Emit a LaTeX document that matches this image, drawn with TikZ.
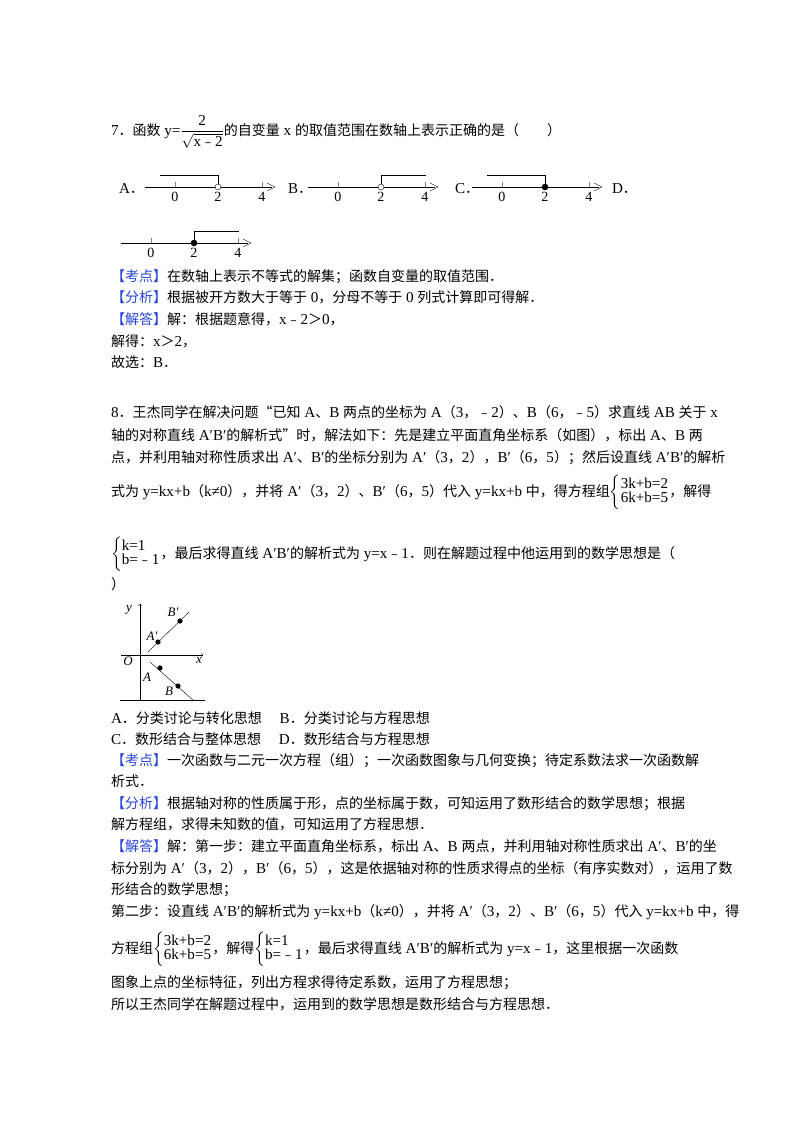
\documentclass[tikz,border=0pt]{standalone}
\usepackage{amsmath}
\usepackage{fontspec}
\setmainfont{Liberation Serif}[Scale=1.08]
\newfontfamily\cjk{Noto Sans CJK SC}
\XeTeXinterchartokenstate=1
\newXeTeXintercharclass\cjkcls
\def\setcls#1#2{\count255=#1 \loop \XeTeXcharclass\count255=\cjkcls \ifnum\count255<#2 \advance\count255 1 \repeat}
\setcls{"4E00}{"9FFF}
\setcls{"3000}{"303F}
\setcls{"FF00}{"FFEF}
\setcls{"FE30}{"FE6F}
\setcls{"2018}{"201D}
\XeTeXinterchartoks 0 \cjkcls = {\cjk}
\XeTeXinterchartoks 4095 \cjkcls = {\cjk}
\XeTeXinterchartoks \cjkcls 0 = {\rmfamily}
\XeTeXinterchartoks \cjkcls 4095 = {\rmfamily}
\definecolor{kb}{RGB}{40,70,220}
\newcommand\tagb[1]{\textcolor{kb}{【#1】}}
\newcommand\sysb[2]{$\renewcommand{\arraystretch}{0.85}\left\{\begin{array}{@{}l@{}}\text{#1}\\\text{#2}\end{array}\right.$}
\newcommand\mynl[4]{% x0, y, side(0 left,1 right), filled(0/1)
  \draw[thin] (#1,#2) -- (#1+127,#2);
  \draw[thin] (#1+122,#2-4) -- (#1+130,#2) -- (#1+122,#2+4);
  \foreach \k/\t in {30/0,73/2,117/4}{
    \draw[very thin,gray] (#1+\k,#2) -- (#1+\k,#2-5);
    \node[font=\fontsize{13}{13}\selectfont,anchor=base] at (#1+\k,#2+14) {\t};}
  \ifnum#3=0 \draw (#1+15,#2-12) -- (#1+73,#2-12) -- (#1+73,#2);
  \else \draw (#1+73,#2) -- (#1+73,#2-12) -- (#1+118,#2-12); \fi
  \ifnum#4=0 \filldraw[fill=white] (#1+73,#2) circle (3);
  \else \fill (#1+73,#2) circle (3.3); \fi}
\begin{document}
\begin{tikzpicture}[x=1pt,y=-1pt,
  every node/.style={inner sep=0pt,outer sep=0pt},
  t/.style={anchor=base west,font=\fontsize{14}{17}\selectfont},
  lbl/.style={font=\fontsize{12}{12}\selectfont\itshape,anchor=base}]
\useasboundingbox[fill=white] (0,0) rectangle (800,1132);
\node[t] (l1) at (111,135) {7．函数 y=$\dfrac{\text{2}}{\sqrt{\text{x﹣2}}}$的自变量 x 的取值范围在数轴上表示正确的是（　　）};
\node[t] (oa) at (119,193) {A．};
\mynl{145}{187}{0}{0}
\node[t] (ob) at (288,193) {B．};
\mynl{308}{187}{1}{0}
\node[t] (oc) at (455,193) {C．};
\mynl{472}{187}{0}{1}
\node[t] (od) at (612,193) {D．};
\mynl{121}{243}{1}{1}
\node[t] (a1) at (111,281) {\tagb{考点}在数轴上表示不等式的解集；函数自变量的取值范围．};
\node[t] (a2) at (111,302) {\tagb{分析}根据被开方数大于等于 0，分母不等于 0 列式计算即可得解．};
\node[t] (a3) at (111,324) {\tagb{解答}解：根据题意得，x﹣2＞0，};
\node[t] (a4) at (111,346) {解得：x＞2，};
\node[t] (a5) at (111,367) {故选：B．};
\node[t] (b1) at (111,417) {8．王杰同学在解决问题“已知 A、B 两点的坐标为 A（3，﹣2）、B（6，﹣5）求直线 AB 关于 x};
\node[t] (b2) at (111,440) {轴的对称直线 A′B′的解析式”时，解法如下：先是建立平面直角坐标系（如图），标出 A、B 两};
\node[t] (b3) at (111,462) {点，并利用轴对称性质求出 A′、B′的坐标分别为 A′（3，2），B′（6，5）；然后设直线 A′B′的解析};
\node[t] (b4) at (111,496) {式为 y=kx+b（k≠0），并将 A′（3，2）、B′（6，5）代入 y=kx+b 中，得方程组\sysb{3k+b=2}{6k+b=5}，解得};
\node[t] (b5) at (111,558) {\sysb{k=1}{b=﹣1}，最后求得直线 A′B′的解析式为 y=x﹣1．则在解题过程中他运用到的数学思想是（};
\node[t] (b6) at (111,589) {）};
% figure
\coordinate (ybot) at (140,700);
\coordinate (ytop) at (140,604);
\coordinate (xl) at (121,655);
\coordinate (xr) at (203,655);
\draw[->] (ybot) -- (ytop);
\draw[->] (xl) -- (xr);
\coordinate (bl) at (120,700);
\coordinate (br) at (205,700);
\draw (bl) -- (br);
\coordinate (p1) at (148,652); \coordinate (p2) at (189,612);
\coordinate (q1) at (150,662); \coordinate (q2) at (193,700);
\draw (p1) -- (p2); \draw (q1) -- (q2);
\fill (158,642) circle (2.6); \fill (180,621) circle (2.6);
\fill (160,668) circle (2.6); \fill (178,686) circle (2.6);
\node[lbl] (ly) at (129,611) {y};
\node[lbl] (lbp) at (173,616) {B′};
\node[lbl] (lap) at (152,640) {A′};
\node[lbl] (lo) at (128,665) {O};
\node[lbl] (lx) at (199,663) {x};
\node[lbl] (la) at (147,681) {A};
\node[lbl] (lb) at (169,695) {B};
\node[t] (c1) at (111,723) {A．分类讨论与转化思想　 B．分类讨论与方程思想};
\node[t] (c2) at (111,744) {C．数形结合与整体思想　 D．数形结合与方程思想};
\node[t] (d1) at (111,765) {\tagb{考点}一次函数与二元一次方程（组）；一次函数图象与几何变换；待定系数法求一次函数解};
\node[t] (d2) at (111,786) {析式．};
\node[t] (d3) at (111,808) {\tagb{分析}根据轴对称的性质属于形，点的坐标属于数，可知运用了数形结合的数学思想；根据};
\node[t] (d4) at (111,829) {解方程组，求得未知数的值，可知运用了方程思想．};
\node[t] (d5) at (111,851) {\tagb{解答}解：第一步：建立平面直角坐标系，标出 A、B 两点，并利用轴对称性质求出 A′、B′的坐};
\node[t] (d6) at (111,873) {标分别为 A′（3，2），B′（6，5），这是依据轴对称的性质求得点的坐标（有序实数对），运用了数};
\node[t] (d7) at (111,894) {形结合的数学思想；};
\node[t] (d8) at (111,916) {第二步：设直线 A′B′的解析式为 y=kx+b（k≠0），并将 A′（3，2）、B′（6，5）代入 y=kx+b 中，得};
\node[t] (d9) at (111,953) {方程组\sysb{3k+b=2}{6k+b=5}，解得\sysb{k=1}{b=﹣1}，最后求得直线 A′B′的解析式为 y=x﹣1，这里根据一次函数};
\node[t] (d10) at (111,987) {图象上点的坐标特征，列出方程求得待定系数，运用了方程思想；};
\node[t] (d11) at (111,1009) {所以王杰同学在解题过程中，运用到的数学思想是数形结合与方程思想．};
\end{tikzpicture}
\end{document}
